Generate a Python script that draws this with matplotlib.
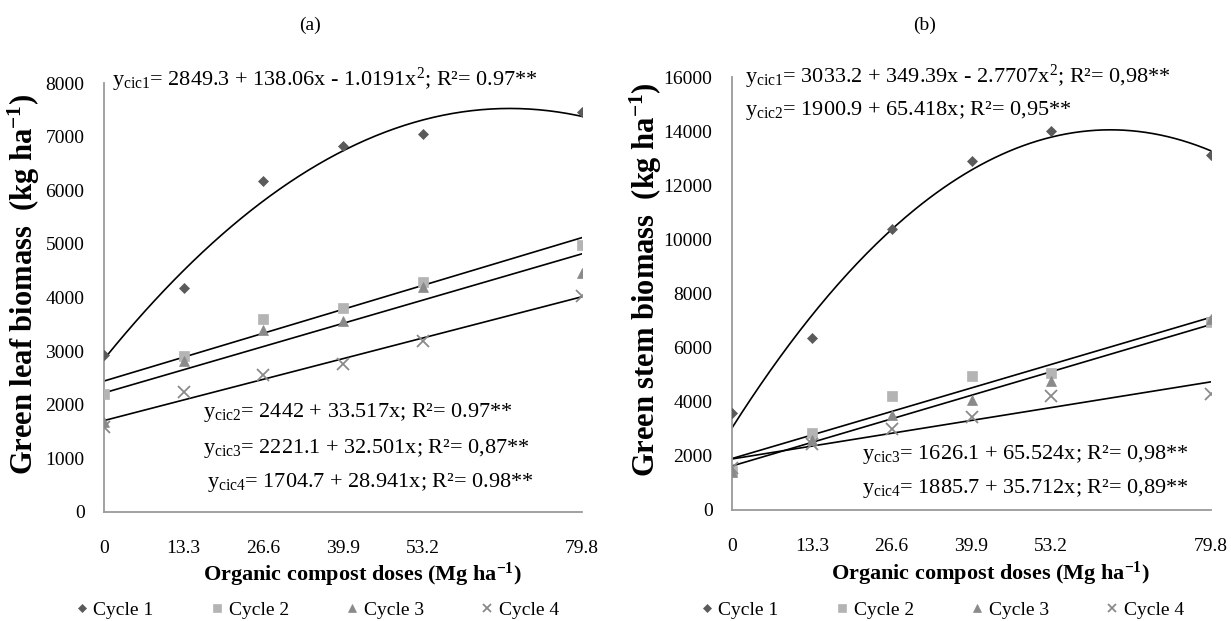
import matplotlib
matplotlib.use('Agg')
import matplotlib.pyplot as plt
import numpy as np

plt.rcParams['font.family'] = ['Liberation Serif', 'DejaVu Serif']
plt.rcParams['mathtext.fontset'] = 'custom'
plt.rcParams['mathtext.rm'] = 'Liberation Serif'
plt.rcParams['mathtext.it'] = 'Liberation Serif:italic'
plt.rcParams['mathtext.bf'] = 'Liberation Serif:bold'

# doses (Mg ha-1)
doses = [0, 13.3, 26.6, 39.9, 53.2, 79.8]
dose_labels = ['0', '13.3', '26.6', '39.9', '53.2', '79.8']
cycles = ['Cycle 1', 'Cycle 2', 'Cycle 3', 'Cycle 4']

# (a) green leaf biomass
leaf_c1 = [2920, 4170, 6180, 6820, 7050, 7450]
leaf_c2 = [2200, 2900, 3600, 3800, 4280, 4980]
leaf_c3 = [1680, 2820, 3400, 3560, 4200, 4450]
leaf_c4 = [1580, 2230, 2550, 2760, 3180, 4020]
# fitted coefficients (a0, a1, a2)
leaf_fit = [[2849.3, 138.06, -1.0191], [2442, 33.517], [2221.1, 32.501], [1704.7, 28.941]]

# (b) green stem biomass
stem_c1 = [3580, 6350, 10400, 12900, 14000, 13100]
stem_c2 = [1450, 2850, 4200, 4950, 5050, 6950]
stem_c3 = [1400, 2600, 3500, 4050, 4750, 7050]
stem_c4 = [1550, 2450, 3000, 3450, 4200, 4300]
stem_fit = [[3033.2, 349.39, -2.7707], [1900.9, 65.418], [1626.1, 65.524], [1885.7, 35.712]]

markers = ['D', 's', '^', 'x']
colors = ['#5a5a5a', '#b4b4b4', '#8a8a8a', '#8a8a8a']
sizes = [5, 6.5, 6.5, 8]

fig = plt.figure(figsize=(12.31, 6.21), dpi=100)
W, H = 1231, 621
axa = fig.add_axes([104 / W, 1 - 512 / H, (582 - 104) / W, (512 - 83) / H])
axb = fig.add_axes([732 / W, 1 - 510 / H, (1211 - 732) / W, (510 - 77) / H])


def draw(ax, series, fits, ymax, ystep):
    xs = np.linspace(0, doses[-1], 200)
    for i in range(4):
        ax.plot(doses, series[i], linestyle='none', marker=markers[i], color=colors[i],
                markersize=sizes[i], markeredgewidth=1.3 if markers[i] == 'x' else 0.5,
                label=cycles[i], zorder=3)
        ax.plot(xs, np.polyval(fits[i][::-1], xs), color='black', lw=1.2, zorder=2)
    ax.set_xlim(0, doses[-1])
    ax.set_ylim(0, ymax)
    ax.set_xticks(doses)
    ax.set_xticklabels(dose_labels)
    ax.set_yticks(np.arange(0, ymax + 1, ystep))
    ax.tick_params(length=0, labelsize=14)
    ax.tick_params(axis='x', pad=20)
    ax.tick_params(axis='y', pad=14)
    for s in ['top', 'right']:
        ax.spines[s].set_visible(False)
    for s in ['left', 'bottom']:
        ax.spines[s].set_color('#9a9a9a')
        ax.spines[s].set_linewidth(1.3)
    ax.set_xlabel(r'Organic compost doses (Mg ha$^{\mathbf{-1}}$)', fontsize=16,
                  fontweight='bold', va='center')
    ax.xaxis.set_label_coords(0.54, -63 / 429)


draw(axa, [leaf_c1, leaf_c2, leaf_c3, leaf_c4], leaf_fit, 8000, 1000)
draw(axb, [stem_c1, stem_c2, stem_c3, stem_c4], stem_fit, 16000, 2000)

# y axis titles
fig.text(24 / W, 1 - 284 / H, r'Green leaf biomass  (kg ha$^{\mathbf{-1}}$)', fontsize=22,
         fontweight='bold', rotation=90, ha='center', va='center')
fig.text(646 / W, 1 - 280 / H, r'Green stem biomass  (kg ha$^{\mathbf{-1}}$)', fontsize=22,
         fontweight='bold', rotation=90, ha='center', va='center')

eq = dict(fontsize=16, ha='left', va='center')
fig.text(112 / W, 1 - 80 / H, r'y$_{\mathrm{cic1}}$= 2849.3 + 138.06x - 1.0191x$^{2}$; R²= 0.97**', **eq)
fig.text(203 / W, 1 - 413 / H, r'y$_{\mathrm{cic2}}$= 2442 + 33.517x; R²= 0.97**', **eq)
fig.text(203 / W, 1 - 448 / H, r'y$_{\mathrm{cic3}}$= 2221.1 + 32.501x; R²= 0,87**', **eq)
fig.text(207 / W, 1 - 482 / H, r'y$_{\mathrm{cic4}}$= 1704.7 + 28.941x; R²= 0.98**', **eq)

fig.text(745 / W, 1 - 77 / H, r'y$_{\mathrm{cic1}}$= 3033.2 + 349.39x - 2.7707x$^{2}$; R²= 0,98**', **eq)
fig.text(745 / W, 1 - 110 / H, r'y$_{\mathrm{cic2}}$= 1900.9 + 65.418x; R²= 0,95**', **eq)
fig.text(862 / W, 1 - 455 / H, r'y$_{\mathrm{cic3}}$= 1626.1 + 65.524x; R²= 0,98**', **eq)
fig.text(862 / W, 1 - 489 / H, r'y$_{\mathrm{cic4}}$= 1885.7 + 35.712x; R²= 0,89**', **eq)

fig.text(310 / W, 1 - 25 / H, '(a)', fontsize=14, ha='center', va='center')
fig.text(925 / W, 1 - 25 / H, '(b)', fontsize=14, ha='center', va='center')

for ax, x0 in [(axa, 75), (axb, 700)]:
    ax.legend(loc='center left', bbox_to_anchor=(x0 / W, 1 - 610 / H),
              bbox_transform=fig.transFigure, ncol=4, frameon=False, fontsize=14,
              handlelength=0.7, handletextpad=0.25, columnspacing=2.9, markerscale=0.8,
              borderaxespad=0, borderpad=0)

fig.savefig('out.png', dpi=100)
